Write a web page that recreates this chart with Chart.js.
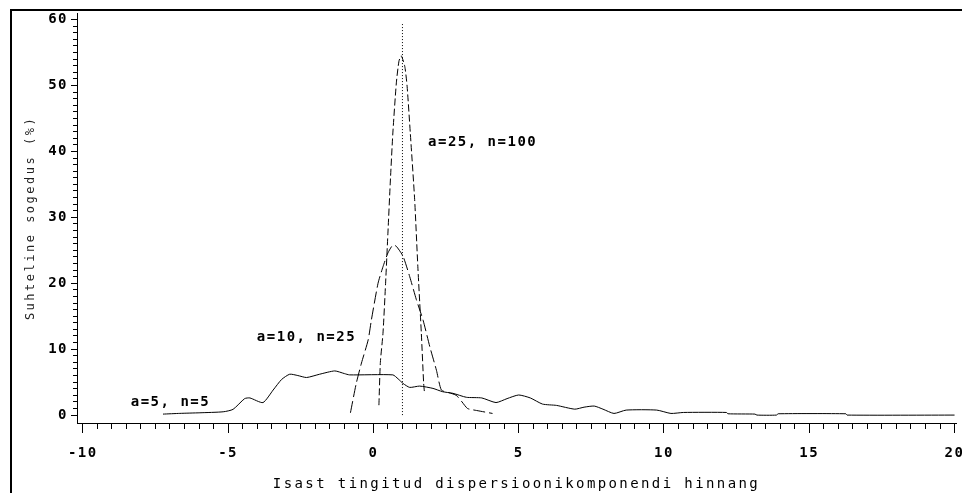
<!DOCTYPE html>
<html>
<head>
<meta charset="utf-8">
<script src="https://cdn.jsdelivr.net/npm/chart.js@4/dist/chart.umd.min.js"></script>
<style>
  html, body { margin: 0; padding: 0; background: #fff; overflow: hidden; }
  #wrap { position: relative; width: 962px; height: 493px; }
  #frame { position: absolute; left: 10px; top: 9px; width: 1000px; height: 600px;
           border: 2px solid #000; pointer-events: none; }
</style>
</head>
<body>
<div id="wrap">
  <canvas id="c" width="962" height="493"></canvas>
  <div id="frame"></div>
</div>
<script>
// ---- data ----
const a5X  = [-7.24,-6.66,-5.97,-5.17,-4.83,-4.43,-4.25,-3.8,-3.45,-3.16,-2.88,-2.6,-2.3,-1.85,-1.33,-1.0,-0.82,0.67,0.85,1.02,1.25,1.59,2.05,2.38,2.74,3.2,3.73,4.22,4.6,5.0,5.4,5.82,6.3,6.93,7.25,7.6,7.9,8.28,8.7,9.75,10.24,10.67,12.15,12.2,13.13,13.2,13.87,13.93,16.26,16.3,20.0];
const a5Y  = [0.15,0.26,0.35,0.5,0.87,2.5,2.6,1.9,3.8,5.4,6.2,6.0,5.7,6.2,6.7,6.3,6.1,6.1,5.5,4.8,4.2,4.4,4.05,3.55,3.3,2.7,2.6,1.9,2.5,3.05,2.6,1.67,1.47,0.9,1.2,1.37,0.9,0.25,0.76,0.76,0.25,0.4,0.4,0.2,0.15,0.0,0.0,0.2,0.2,0.0,0.0];

const a10X = [-0.79,-0.59,-0.41,-0.18,-0.07,0.16,0.33,0.5,0.67,0.79,1.02,1.25,1.48,1.71,1.94,2.17,2.34,2.6,2.85,3.05,3.24,3.55,4.1];
const a10Y = [0.35,4.8,7.9,11.4,14.4,20.0,22.5,24.6,25.8,25.6,24.1,21.0,17.5,14.4,10.4,6.8,3.8,3.4,3.0,2.0,1.0,0.7,0.25];

const a25X = [0.19,0.24,0.33,0.42,0.5,0.58,0.67,0.79,0.88,0.96,1.08,1.16,1.27,1.42,1.53,1.65,1.73,1.76];
const a25Y = [1.5,8.0,12.4,20.0,27.6,35.2,42.8,50.4,53.7,54.5,52.9,49.9,42.8,32.7,22.5,12.4,4.8,3.3];

const refX = [1, 1];
const refY = [0, 59.6];

const xTickValues = [];
for (let v = -10; v <= 20; v += 0.5) xTickValues.push(v);
const yTickValues = [];
for (let v = 0; v <= 60; v += 1) yTickValues.push(v);

const curveLabels = ['a=5, n=5', 'a=10, n=25', 'a=25, n=100'];
const curveLabelX = [-8.35, -4.01, 1.88];
const curveLabelY = [1.87, 11.85, 41.4];

const xTitle = 'Isast tingitud dispersioonikomponendi hinnang';
const yTitle = 'Suhteline sogedus (%)';

// ---- build ----
const pts = (xs, ys) => xs.map((x, i) => ({x: x, y: ys[i]}));
const SPACING = '1.5px';
const TITLE_SPACING = { x: '2.4px', y: '2.5px' };
const spacingPlugin = {
  id: 'spacing',
  beforeUpdate(chart) { chart.ctx.letterSpacing = SPACING; },
  beforeLayout(chart) { chart.ctx.letterSpacing = SPACING; },
  afterLayout(chart) {
    Object.values(chart.scales).forEach(s => {
      if (s._spacedTitle) return;
      const orig = s.drawTitle.bind(s);
      s.drawTitle = function () {
        const c = this.ctx;
        const prev = c.letterSpacing;
        c.letterSpacing = TITLE_SPACING[this.id] || SPACING;
        orig();
        c.letterSpacing = prev;
      };
      s._spacedTitle = true;
    });
  },
  beforeDraw(chart) { chart.ctx.letterSpacing = SPACING; }
};
const labelPlugin = {
  id: 'curveLabels',
  afterDatasetsDraw(chart) {
    const {ctx, scales} = chart;
    ctx.save();
    ctx.letterSpacing = SPACING;
    ctx.font = 'bold 14px "DejaVu Sans Mono"';
    ctx.fillStyle = '#000';
    ctx.textAlign = 'left';
    ctx.textBaseline = 'middle';
    curveLabels.forEach((t, i) => {
      ctx.fillText(t, scales.x.getPixelForValue(curveLabelX[i]), scales.y.getPixelForValue(curveLabelY[i]));
    });
    ctx.restore();
  }
};

const lineDs = (data, dash) => ({
  data: data, borderColor: '#000', borderWidth: 1, borderDash: dash,
  pointRadius: 0, tension: 0.2, fill: false
});

new Chart(document.getElementById('c'), {
  type: 'line',
  data: {
    datasets: [
      lineDs(pts(a5X, a5Y), []),
      lineDs(pts(a10X, a10Y), [12, 4]),
      lineDs(pts(a25X, a25Y), [7, 3]),
      Object.assign(lineDs(pts(refX, refY), [1, 2]), {tension: 0})
    ]
  },
  options: {
    responsive: false,
    animation: false,
    events: [],
    layout: { padding: { left: 0, top: 13, right: 6, bottom: 0 } },
    plugins: { legend: { display: false }, tooltip: { enabled: false } },
    scales: {
      x: {
        type: 'linear', min: -10.2, max: 20.05,
        afterBuildTicks: s => { s.ticks = xTickValues.map(v => ({value: v})); },
        afterFit: s => { s.height = 70; s.paddingLeft = 0; s.paddingRight = 0; },
        border: { display: true, color: '#000', width: 1 },
        grid: {
          drawOnChartArea: false, drawTicks: true, tickLength: 10, tickColor: '#000', tickWidth: 1,
          tickBorderDash: c => (c.tick && Math.abs(c.tick.value % 5) > 1e-9) ? [5, 100] : []
        },
        ticks: {
          autoSkip: false, maxRotation: 0, minRotation: 0, padding: 12, color: '#000',
          font: { family: 'DejaVu Sans Mono', size: 14, weight: 'bold' },
          callback: v => (Math.abs(v % 5) < 1e-9 ? String(v) : '')
        },
        title: {
          display: true, text: xTitle, color: '#000',
          font: { family: 'DejaVu Sans Mono', size: 14, weight: 'normal' },
          padding: { top: 0, bottom: 0 }
        }
      },
      y: {
        type: 'linear', min: -1.2, max: 61,
        afterBuildTicks: s => { s.ticks = yTickValues.map(v => ({value: v})); },
        afterFit: s => { s.width = 77; s.paddingTop = 0; s.paddingBottom = 0; },
        border: { display: true, color: '#000', width: 1 },
        grid: {
          drawOnChartArea: false, drawTicks: true, tickLength: 6, tickColor: '#000', tickWidth: 1,
          tickBorderDash: c => (c.tick && c.tick.value % 10 !== 0) ? [0, 2, 4, 100] : []
        },
        ticks: {
          autoSkip: false, padding: 3, color: '#000',
          font: { family: 'DejaVu Sans Mono', size: 14, weight: 'bold' },
          callback: v => (v % 10 === 0 ? String(v) : '')
        },
        title: {
          display: true, text: yTitle, color: '#222',
          font: { family: 'DejaVu Sans Mono', size: 12, weight: 'normal' },
          padding: { top: 24, bottom: 0 }
        }
      }
    }
  },
  plugins: [spacingPlugin, labelPlugin]
});
</script>
</body>
</html>
